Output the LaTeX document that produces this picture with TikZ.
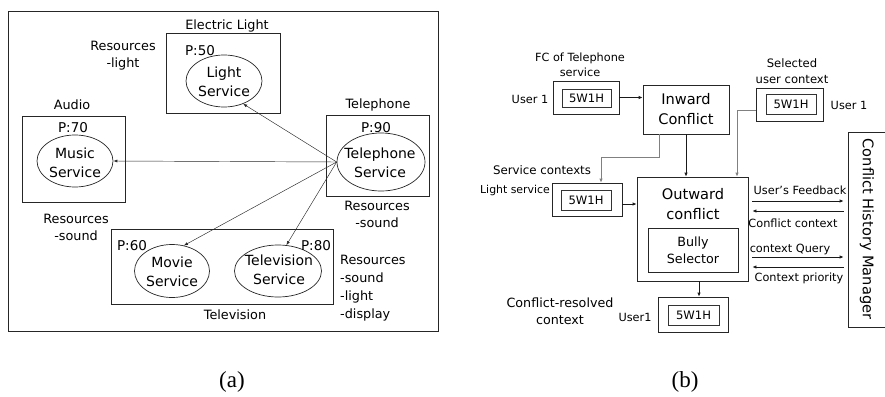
\documentclass[tikz,border=0pt]{standalone}
\usepackage{fontspec}
\setmainfont{DejaVu Sans}
\newfontfamily\capfont{Liberation Serif}
\usetikzlibrary{arrows.meta,shapes.geometric}

\begin{document}
\begin{tikzpicture}[x=1pt,y=-1pt,
  box/.style={draw=black!85, line width=0.8pt, inner sep=0pt},
  svc/.style={draw=black!85, ellipse, line width=0.7pt, inner sep=0pt},
  svctext/.style={inner sep=0pt, align=center, font=\fontsize{14}{19}\selectfont},
  lbl/.style={inner sep=0pt, align=center, font=\fontsize{12.8}{17}\selectfont},
  prio/.style={inner sep=0pt, font=\fontsize{13.5}{16}\selectfont},
  small/.style={inner sep=0pt, align=center, font=\fontsize{11.3}{15.5}\selectfont},
  big/.style={inner sep=0pt, align=center, font=\fontsize{14.6}{20}\selectfont},
  mid/.style={inner sep=0pt, align=center, font=\fontsize{12.7}{17}\selectfont},
  tag/.style={inner sep=0pt, font=\fontsize{11.6}{14}\selectfont},
  caption/.style={inner sep=0pt, font=\capfont\fontsize{23}{26}\selectfont},
  thinarr/.style={draw=black!85, line width=0.45pt, -{Latex[length=4pt,width=3pt]}},
  arr/.style={draw=black!90, line width=0.8pt, -{Latex[length=4pt,width=3.5pt]}},
  grayarr/.style={draw=black!50, line width=0.9pt, -{Latex[length=4pt,width=3.5pt]}}
]
\useasboundingbox (0,0) rectangle (885,396);

% ---------------- (a) devices, services and resources ----------------
\node[box, minimum width=430pt, minimum height=320pt] (frameA) at (223,171) {};

% devices
\node[box, minimum width=114pt, minimum height=80pt] (elight) at (223,73) {};
\node[box, minimum width=103pt, minimum height=86pt] (audio) at (73.5,159) {};
\node[box, minimum width=103pt, minimum height=81pt] (phonebox) at (377.5,155.5) {};
\node[box, minimum width=222pt, minimum height=75pt] (tvbox) at (222,266.5) {};

\node[lbl] (elightname) at (227,26) {Electric Light};
\node[lbl] (audioname) at (72,105) {Audio};
\node[lbl] (phonename) at (378,105) {Telephone};
\node[lbl] (tvname) at (235,315) {Television};

% services
\node[svc, minimum width=76pt, minimum height=52pt] (light) at (224,81) {};
\node[svctext] at (224,82) {Light\\Service};
\node[svc, minimum width=76pt, minimum height=52pt] (music) at (75,161) {};
\node[svctext] at (75,163) {Music\\Service};
\node[svc, minimum width=88pt, minimum height=58pt] (phone) at (381,162) {};
\node[svctext] at (380,163) {Telephone\\Service};
\node[svc, minimum width=75pt, minimum height=53pt] (movie) at (172,271) {};
\node[svctext] at (172,272) {Movie\\Service};
\node[svc, minimum width=87pt, minimum height=52pt] (tvs) at (278,271) {};
\node[svctext] at (279,270) {Television\\Service};

% priorities
\node[prio] (p50) at (200,51) {P:50};
\node[prio] (p70) at (73,128) {P:70};
\node[prio] (p90) at (376,128) {P:90};
\node[prio] (p60) at (132,246) {P:60};
\node[prio] (p80) at (316,246) {P:80};

% resources
\node[lbl] (reslight) at (123,56) {Resources\\-light};
\node[lbl] (resaudio) at (76,227.5) {Resources\\-sound};
\node[lbl] (resphone) at (377,214.5) {Resources\\-sound};
\node[lbl, align=left, anchor=west, font=\fontsize{12.8}{18}\selectfont] (restv) at (340,288) {Resources\\-sound\\-light\\-display};

% conflicts raised by the telephone service
\draw[thinarr] (phone.west) -- (light.-50);
\draw[thinarr] (phone.west) -- (music.east);
\draw[thinarr] (phone.west) -- (movie.65);
\draw[thinarr] (phone.west) -- (tvs.72);

\node[caption] (capa) at (232,382) {(a)};

% ---------------- (b) conflict resolution flow ----------------
% FC of telephone service
\node[box, minimum width=66pt, minimum height=33pt] (fcbox) at (586,97.5) {};
\node[box, draw=black!80, line width=0.7pt, minimum width=49pt, minimum height=18pt, tag] (fcin) at (586.5,98.5) {5W1H};
\node[small] (fcname) at (580,65) {FC of Telephone\\service};
\node[small] (fcuser) at (530,99) {User 1};

% inward conflict
\node[box, minimum width=86pt, minimum height=49pt, big] (inward) at (686,109.5) {Inward\\Conflict};

% selected user context
\node[box, minimum width=67pt, minimum height=33pt] (selbox) at (789.5,104.5) {};
\node[box, draw=black!80, line width=0.7pt, minimum width=50pt, minimum height=20pt, tag] (selin) at (791,104.5) {5W1H};
\node[small, font=\fontsize{11.6}{16}\selectfont] (selname) at (792,71) {Selected\\user context};
\node[small] (seluser) at (849,105) {User 1};

% service contexts
\node[box, minimum width=70pt, minimum height=33pt] (lightbox) at (587,199.5) {};
\node[box, draw=black!80, line width=0.7pt, minimum width=50pt, minimum height=20pt, tag] (lightin) at (586,200.5) {5W1H};
\node[small, font=\fontsize{11.8}{15}\selectfont] (svcctx) at (542,170) {Service contexts};
\node[small, font=\fontsize{10.9}{14}\selectfont] (lightsvc) at (515,190) {Light service};

% outward conflict with bully selector
\node[box, minimum width=111pt, minimum height=104pt] (outward) at (692.5,229) {};
\node[big] (outwardname) at (693,204.5) {Outward\\conflict};
\node[box, minimum width=90pt, minimum height=44pt, mid] (bully) at (693,250) {Bully\\Selector};

% conflict-resolved context
\node[box, minimum width=70pt, minimum height=35pt] (resbox) at (693,314.5) {};
\node[box, draw=black!80, line width=0.7pt, minimum width=51pt, minimum height=20pt, tag] (resin) at (693.5,315) {5W1H};
\node[mid] (resname) at (560,311.5) {Conflict-resolved\\context};
\node[small] (resuser) at (635,317) {User1};

% conflict history manager
\node[box, minimum width=40pt, minimum height=195pt] (chm) at (868,229.5) {};
\node[big, rotate=-90] at (867,229) {Conflict History Manager};

% flow
\draw[arr] (fcbox.east) -- (inward.west |- fcbox.east);
\draw[arr] (inward.south) -- (outward.north -| inward.south);
\draw[grayarr] (inward.south -| 659,0) -- (659,157) -- (601,157) -- (lightbox.north -| 601,0);
\draw[grayarr] (selbox.west |- 0,110) -- (737,110) -- (outward.north -| 737,0);
\draw[arr] (lightbox.east |- 0,204) -- (outward.west |- 0,204);
\draw[arr] (outward.south -| 699,0) -- (resbox.north -| 699,0);

% exchange with the history manager
\draw[arr, shorten <=4pt, shorten >=4pt] (outward.east |- 0,201) -- (chm.west |- 0,201);
\draw[arr, shorten <=4pt, shorten >=4pt] (chm.west |- 0,211) -- (outward.east |- 0,211);
\draw[arr, shorten <=4pt, shorten >=4pt] (outward.east |- 0,257) -- (chm.west |- 0,257);
\draw[arr, shorten <=4pt, shorten >=4pt] (chm.west |- 0,267) -- (outward.east |- 0,267);
\node[small] (fb) at (800,190) {User’s Feedback};
\node[small] (cc) at (793,223) {Conflict context};
\node[small] (cq) at (790,249) {context Query};
\node[small] (cp) at (799,278) {Context priority};

\node[caption] (capb) at (685,382) {(b)};
\end{tikzpicture}
\end{document}
